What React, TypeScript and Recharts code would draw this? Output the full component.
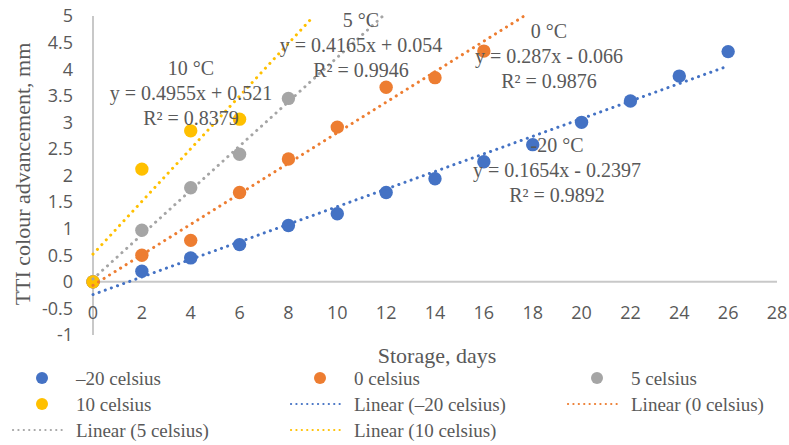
import React from 'react';
import { ScatterChart, Scatter, XAxis, YAxis, ReferenceLine } from 'recharts';

// ---- data ----
const seriesNames = ['–20 celsius', '0 celsius', '5 celsius', '10 celsius'];
const trendNames = ['Linear (–20 celsius)', 'Linear (0 celsius)', 'Linear (5 celsius)', 'Linear (10 celsius)'];

const minus20Days = [0, 2, 4, 6, 8, 10, 12, 14, 16, 18, 20, 22, 24, 26];
const minus20Values = [0, 0.2, 0.45, 0.7, 1.06, 1.28, 1.68, 1.94, 2.26, 2.58, 3.0, 3.4, 3.87, 4.33];

const zeroDays = [0, 2, 4, 6, 8, 10, 12, 14, 16];
const zeroValues = [0, 0.5, 0.78, 1.68, 2.31, 2.91, 3.66, 3.84, 4.34];

const fiveDays = [0, 2, 4, 6, 8];
const fiveValues = [0, 0.97, 1.77, 2.4, 3.45];

const tenDays = [0, 2, 4, 6];
const tenValues = [0, 2.12, 2.84, 3.06];

// trendline endpoints (from the fitted equations shown on the chart)
const minus20TrendDays = [0, 26];
const minus20TrendValues = [-0.2397, 4.06];
const zeroTrendDays = [0, 17.65];
const zeroTrendValues = [-0.066, 5.0];
const fiveTrendDays = [0, 11.87];
const fiveTrendValues = [0.054, 5.0];
const tenTrendDays = [0, 9.04];
const tenTrendValues = [0.521, 5.0];

const xTicks = [0, 2, 4, 6, 8, 10, 12, 14, 16, 18, 20, 22, 24, 26, 28];
const yTicks = [-1, -0.5, 0, 0.5, 1, 1.5, 2, 2.5, 3, 3.5, 4, 4.5, 5];

const annotations = [
  ['10 °C', 'y = 0.4955x + 0.521', 'R² = 0.8379'],
  ['5 °C', 'y = 0.4165x + 0.054', 'R² = 0.9946'],
  ['0 °C', 'y = 0.287x - 0.066', 'R² = 0.9876'],
  ['-20 °C', 'y = 0.1654x - 0.2397', 'R² = 0.9892'],
];

// ---- styling ----
const COLORS = ['#4472C4', '#ED7D31', '#A5A5A5', '#FFC000'];
const TEXT = '#595959';
const AXIS = '#C8C8C8';
const SERIF = '"Liberation Serif", "Times New Roman", serif';
const SANS = '"Open Sans", sans-serif';

const zip = (xs: number[], ys: number[]) => xs.map((x, i) => ({ x, y: ys[i] }));

const pointSets = [
  zip(minus20Days, minus20Values),
  zip(zeroDays, zeroValues),
  zip(fiveDays, fiveValues),
  zip(tenDays, tenValues),
];
const trendSets = [
  zip(minus20TrendDays, minus20TrendValues),
  zip(zeroTrendDays, zeroTrendValues),
  zip(fiveTrendDays, fiveTrendValues),
  zip(tenTrendDays, tenTrendValues),
];

const annotationPos = [
  { cx: 191, cy: 68 },
  { cx: 361, cy: 20 },
  { cx: 549, cy: 31 },
  { cx: 557, cy: 145 },
];

const XTick = (props: any) => (
  <text x={props.x} y={312} textAnchor="middle" dominantBaseline="central" fill={TEXT} fontSize={18} fontFamily={SANS}>
    {props.payload.value}
  </text>
);

const dotShape = (color: string) => (props: any) => <circle cx={props.cx} cy={props.cy} r={6.7} fill={color} />;
const noShape = () => <g />;

// legend layout
const legendItems: { label: string; kind: 'dot' | 'line'; color: string; tx: number; ty: number }[] = [
  { label: seriesNames[0], kind: 'dot', color: COLORS[0], tx: 76, ty: 378 },
  { label: seriesNames[1], kind: 'dot', color: COLORS[1], tx: 354, ty: 378 },
  { label: seriesNames[2], kind: 'dot', color: COLORS[2], tx: 631, ty: 378 },
  { label: seriesNames[3], kind: 'dot', color: COLORS[3], tx: 76, ty: 404 },
  { label: trendNames[0], kind: 'line', color: COLORS[0], tx: 354, ty: 404 },
  { label: trendNames[1], kind: 'line', color: COLORS[1], tx: 631, ty: 404 },
  { label: trendNames[2], kind: 'line', color: COLORS[2], tx: 76, ty: 430 },
  { label: trendNames[3], kind: 'line', color: COLORS[3], tx: 354, ty: 430 },
];

export default function App() {
  return (
    <div style={{ position: 'absolute', left: 0, top: 0, width: 789, height: 445, background: '#fff' }}>
      <ScatterChart width={789} height={445} margin={{ top: 16, right: 12, left: 0, bottom: 0 }}>
        <XAxis
          type="number"
          dataKey="x"
          domain={[0, 28]}
          ticks={xTicks}
          axisLine={false}
          tickLine={false}
          height={110}
          tick={XTick}
          interval={0}
        />
        <YAxis
          type="number"
          dataKey="y"
          domain={[-1, 5]}
          ticks={yTicks}
          width={93}
          axisLine={{ stroke: AXIS, strokeWidth: 2 }}
          tickLine={false}
          tickSize={0}
          tickMargin={20}
          interval={0}
          tick={{ fill: TEXT, fontSize: 18, fontFamily: SANS }}
        />
        <ReferenceLine y={0} stroke={AXIS} strokeWidth={2} />
        {pointSets.map((d, i) => (
          <Scatter key={'p' + i} name={seriesNames[i]} data={d} fill={COLORS[i]} shape={dotShape(COLORS[i])} isAnimationActive={false} />
        ))}
        {trendSets.map((d, i) => (
          <Scatter
            key={'t' + i}
            name={trendNames[i]}
            data={d}
            line={{ stroke: COLORS[i], strokeWidth: 3, strokeDasharray: '0.1 6.4', strokeLinecap: 'round' }}
            shape={noShape}
            isAnimationActive={false}
          />
        ))}
      </ScatterChart>
      <svg width={789} height={445} style={{ position: 'absolute', left: 0, top: 0, pointerEvents: 'none' }}>
        {annotations.map((lines, i) => (
          <g key={i}>
            {lines.map((t, j) => (
              <text
                key={j}
                x={annotationPos[i].cx}
                y={annotationPos[i].cy + j * 25}
                textAnchor="middle"
                dominantBaseline="central"
                fill={TEXT}
                fontSize={20}
                fontFamily={SERIF}
              >
                {t}
              </text>
            ))}
          </g>
        ))}
        <text x={437} y={355} textAnchor="middle" dominantBaseline="central" fill={TEXT} fontSize={22} fontFamily={SERIF}>
          Storage, days
        </text>
        <text
          x={22}
          y={174}
          transform="rotate(-90 22 174)"
          textAnchor="middle"
          dominantBaseline="central"
          fill={TEXT}
          fontSize={22}
          fontFamily={SERIF}
        >
          TTI colour advancement, mm
        </text>
        {legendItems.map((it, i) => (
          <g key={i}>
            {it.kind === 'dot' ? (
              <circle cx={it.tx - 34} cy={it.ty} r={6} fill={it.color} />
            ) : (
              <line
                x1={it.tx - 63}
                x2={it.tx - 14}
                y1={it.ty}
                y2={it.ty}
                stroke={it.color}
                strokeWidth={2.2}
                strokeDasharray="0.1 5.3"
                strokeLinecap="round"
              />
            )}
            <text x={it.tx} y={it.ty} dominantBaseline="central" fill={TEXT} fontSize={19} fontFamily={SERIF}>
              {it.label}
            </text>
          </g>
        ))}
      </svg>
    </div>
  );
}
